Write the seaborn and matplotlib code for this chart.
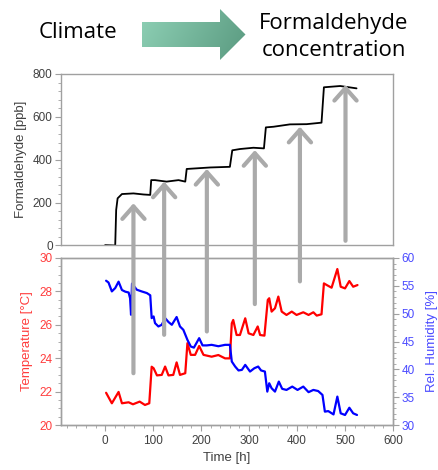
import numpy as np
import pandas as pd
import matplotlib
matplotlib.use("Agg")
import matplotlib.pyplot as plt
from matplotlib.patches import Polygon, ConnectionPatch
from matplotlib.ticker import MultipleLocator, FixedLocator
import seaborn as sns

# --- formaldehyde concentration [ppb] over time [h] ---
time_hcho = [0, 21, 23, 26, 35, 59, 80, 94, 96, 104, 128, 153, 167, 170, 191, 219,
             260, 265, 281, 309, 331, 335, 351, 385, 420, 451, 456, 490, 524]
hcho_ppb = [2, 0, 166, 220, 240, 243, 238, 236, 305, 305, 298, 305, 298, 357, 360, 364,
            367, 444, 450, 456, 453, 551, 554, 565, 566, 573, 738, 744, 733]

# --- temperature [°C] ---
time_temp = [2, 14, 28, 35, 49, 58, 72, 83, 92, 97, 101, 108, 118, 125, 132, 142, 149,
             156, 167, 171.5, 178.5, 187.5, 196, 205, 222, 236, 250, 260, 264, 267, 274,
             281, 292, 299, 309, 318, 323, 332, 339, 342, 347, 354, 361, 368, 378, 389,
             399, 413, 424, 434, 441, 451, 456, 462, 472, 484, 491, 500, 509, 517, 526]
temp_c = [21.93, 21.3, 21.98, 21.3, 21.36, 21.24, 21.4, 21.2, 21.3, 23.49, 23.4, 22.97,
          23.0, 23.5, 22.97, 23.0, 23.75, 23.0, 23.1, 24.9, 24.2, 24.2, 24.73, 24.2,
          24.09, 24.19, 23.99, 23.99, 26.09, 26.29, 25.39, 25.39, 26.39, 25.49, 25.39,
          25.9, 25.39, 25.35, 27.49, 27.59, 26.79, 26.99, 27.69, 26.79, 26.59, 26.79,
          26.59, 26.75, 26.59, 26.75, 26.55, 26.63, 28.48, 28.38, 28.22, 29.34, 28.28,
          28.18, 28.62, 28.28, 28.38]

# --- relative humidity [%] ---
time_rh = [2, 7, 14, 21, 28, 35, 42, 49, 52, 54, 56, 66, 76, 87, 94, 97, 101, 104, 111,
           118, 125, 132, 139, 149, 156, 163, 171.5, 178.5, 185, 196, 203, 212, 222, 236,
           250, 260, 264, 271, 278, 285, 292, 302, 311, 319, 325, 333, 338, 342, 347,
           354, 362, 369, 378, 390, 401, 413, 424, 434, 444, 453, 458, 465, 476, 484,
           491, 500, 509, 517, 525]
rh_pct = [55.92, 55.6, 54.0, 54.6, 55.75, 54.25, 53.95, 53.8, 52.75, 49.8, 55.4, 54.3,
          54.0, 53.7, 53.3, 49.2, 49.5, 48.3, 47.7, 48.0, 49.2, 48.5, 48.0, 49.4, 47.7,
          47.1, 45.3, 44.1, 43.9, 45.6, 44.3, 44.3, 44.4, 44.15, 44.4, 44.4, 41.4, 40.5,
          39.8, 39.9, 40.8, 39.6, 40.2, 40.5, 39.8, 39.6, 36.0, 37.5, 36.6, 36.0, 37.8,
          36.5, 36.3, 36.9, 36.3, 36.9, 35.9, 36.3, 36.1, 35.4, 32.4, 32.5, 31.9, 35.1,
          32.1, 31.8, 33.1, 32.1, 31.8]

# --- climate -> formaldehyde arrows ---
arrow_time = [59, 123, 212, 312, 406, 501]
arrow_from_temp = [23.1, 25.4, 25.6, 27.24, 28.6]   # start on temperature scale
arrow_last_from_ppb = 22                             # last arrow starts in upper panel
arrow_to_ppb = [197, 298, 357, 445, 554, 749]

x_ticks = [0, 100, 200, 300, 400, 500, 600]

sns.set_style("white")
plt.rcParams["font.family"] = ["Liberation Sans", "DejaVu Sans"]

RED = "#ff0000"
BLUE = "#0000ff"
RED_TXT = "#ff3c3c"
BLUE_TXT = "#4a4aff"
GREY_TXT = "#404040"
SPINE = "#a0a0a0"
ARROW = "#aaaaaa"

W, H = 438, 470
fig = plt.figure(figsize=(W / 100, H / 100), dpi=100)

def frac(x0, y0, x1, y1):
    return [x0 / W, 1 - y1 / H, (x1 - x0) / W, (y1 - y0) / H]

ax_top = fig.add_axes(frac(61, 74, 393, 245.5))
ax_bot = fig.add_axes(frac(61, 258, 393, 425))
ax_rh = ax_bot.twinx()

xlim = (-92, 600)

# upper panel: formaldehyde
df_h = pd.DataFrame({"t": time_hcho, "ppb": hcho_ppb})
sns.lineplot(data=df_h, x="t", y="ppb", ax=ax_top, color="black", lw=1.3, sort=False)
ax_top.set_xlim(*xlim)
ax_top.set_ylim(0, 800)
ax_top.set_xticks([])
ax_top.set_xlabel("")
ax_top.yaxis.set_major_locator(MultipleLocator(200))
ax_top.yaxis.set_minor_locator(MultipleLocator(40))
ax_top.set_ylabel("Formaldehyde [ppb]", fontsize=9.5, color=GREY_TXT, labelpad=4)
ax_top.tick_params(axis="y", which="major", direction="out", length=4, width=0.8,
                   color=SPINE, labelsize=8.5, labelcolor=GREY_TXT, pad=2, left=True)
ax_top.tick_params(axis="y", which="minor", direction="out", length=2, width=0.6,
                   color=SPINE, left=True)
for s in ax_top.spines.values():
    s.set_color(SPINE)
    s.set_linewidth(1.0)

# lower panel: temperature and humidity
df_t = pd.DataFrame({"t": time_temp, "T": temp_c})
df_r = pd.DataFrame({"t": time_rh, "RH": rh_pct})
sns.lineplot(data=df_t, x="t", y="T", ax=ax_bot, color=RED, lw=1.6, sort=False)
sns.lineplot(data=df_r, x="t", y="RH", ax=ax_rh, color=BLUE, lw=1.6, sort=False)

ax_bot.set_xlim(*xlim)
ax_bot.set_ylim(20, 30)
ax_rh.set_ylim(30, 60)
ax_bot.xaxis.set_major_locator(FixedLocator(x_ticks))
ax_bot.xaxis.set_minor_locator(MultipleLocator(20))
ax_bot.yaxis.set_major_locator(MultipleLocator(2))
ax_bot.yaxis.set_minor_locator(MultipleLocator(0.5))
ax_rh.yaxis.set_major_locator(MultipleLocator(5))
ax_rh.yaxis.set_minor_locator(MultipleLocator(1))

ax_bot.set_xlabel("Time [h]", fontsize=9.5, color=GREY_TXT, labelpad=4)
ax_bot.set_ylabel("Temperature [°C]", fontsize=9.5, color=RED_TXT, labelpad=5)
ax_rh.set_ylabel("Rel. Humidity [%]", fontsize=9.5, color=BLUE_TXT, labelpad=8)

ax_bot.tick_params(axis="x", which="major", direction="out", length=4, width=0.8,
                   color=SPINE, labelsize=8.5, labelcolor=GREY_TXT, pad=3, bottom=True)
ax_bot.tick_params(axis="x", which="minor", direction="out", length=2.5, width=0.6,
                   color=SPINE, bottom=True)
ax_bot.tick_params(axis="y", which="major", direction="out", length=4, width=0.8,
                   color=SPINE, labelsize=8.5, labelcolor=RED_TXT, pad=2, left=True)
ax_bot.tick_params(axis="y", which="minor", direction="out", length=2, width=0.6,
                   color=SPINE, left=True)
ax_rh.tick_params(axis="y", which="major", direction="out", length=4, width=0.8,
                  color=SPINE, labelsize=8.5, labelcolor=BLUE_TXT, pad=2, right=True)
ax_rh.tick_params(axis="y", which="minor", direction="out", length=2, width=0.6,
                  color=SPINE, right=True)
for a in (ax_bot, ax_rh):
    for s in a.spines.values():
        s.set_color(SPINE)
        s.set_linewidth(1.0)

# grey arrows linking climate change to concentration steps
arrow_kw = dict(arrowstyle="->,head_length=0.45,head_width=0.4", mutation_scale=20,
                color=ARROW, lw=3.0, shrinkA=0, shrinkB=0, zorder=20)
for t, t0, p1 in zip(arrow_time[:-1], arrow_from_temp, arrow_to_ppb[:-1]):
    con = ConnectionPatch(xyA=(t, t0), coordsA=ax_bot.transData,
                          xyB=(t, p1), coordsB=ax_top.transData, **arrow_kw)
    fig.add_artist(con)
con = ConnectionPatch(xyA=(arrow_time[-1], arrow_last_from_ppb), coordsA=ax_top.transData,
                      xyB=(arrow_time[-1], arrow_to_ppb[-1]), coordsB=ax_top.transData,
                      **arrow_kw)
fig.add_artist(con)

# header: Climate -> Formaldehyde concentration
ax_o = fig.add_axes([0, 0, 1, 1], zorder=-1)
ax_o.set_xlim(0, W)
ax_o.set_ylim(H, 0)
ax_o.axis("off")

arrow_pts = [(142, 22), (220, 22), (220, 9), (245.5, 34.5), (220, 60), (220, 47), (142, 47)]
poly = Polygon(arrow_pts, closed=True, facecolor="none", edgecolor="none")
ax_o.add_patch(poly)
gx, gy = np.meshgrid(np.linspace(0, 1, 200), np.linspace(0, 1, 60))
g = 0.8 * gx + 0.2 * gy
c0 = np.array([0x8e, 0xd0, 0xb5]) / 255
c1 = np.array([0x5a, 0x9a, 0x80]) / 255
img = c0[None, None, :] * (1 - g[..., None]) + c1[None, None, :] * g[..., None]
im = ax_o.imshow(img, extent=(142, 245.5, 60, 9), aspect="auto", interpolation="bilinear")
im.set_clip_path(poly)

hdr = dict(family=["Open Sans", "DejaVu Sans"], fontsize=16, color="black",
           ha="center", va="center")
ax_o.text(78, 33, "Climate", **hdr)
ax_o.text(334, 23, "Formaldehyde", **hdr)
ax_o.text(334, 51, "concentration", **hdr)

fig.savefig("out.png", dpi=100)
